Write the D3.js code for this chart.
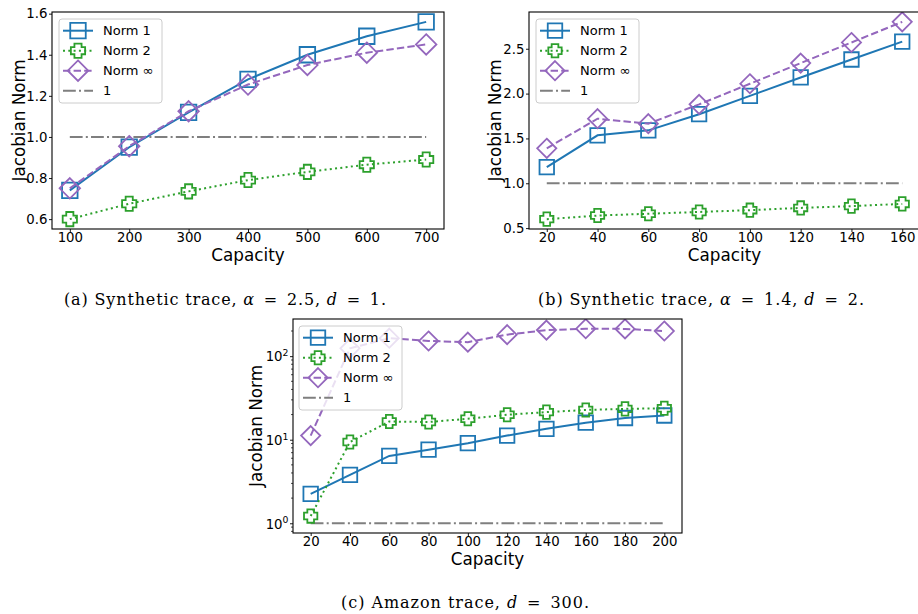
<!DOCTYPE html>
<html>
<head>
<meta charset="utf-8">
<script src="https://cdn.jsdelivr.net/npm/d3@7"></script>
<style>
  body { margin: 0; background: #fff; }
  svg { display: block; }
  text { font-family: "DejaVu Sans", sans-serif; fill: #000; }
  .cap { font-family: "DejaVu Serif", serif; }
</style>
</head>
<body>
<svg id="fig" width="918" height="614"></svg>
<script>

// ---- panel (a): synthetic trace, alpha = 2.5, d = 1
var capA   = [100, 200, 300, 400, 500, 600, 700];
var a_norm1 = [0.74, 0.95, 1.12, 1.28, 1.40, 1.49, 1.56];
var a_norm2 = [0.60, 0.675, 0.735, 0.79, 0.83, 0.865, 0.89];
var a_normI = [0.75, 0.955, 1.125, 1.255, 1.35, 1.41, 1.45];
var a_yticks = [0.6, 0.8, 1.0, 1.2, 1.4, 1.6];

// ---- panel (b): synthetic trace, alpha = 1.4, d = 2
var capB   = [20, 40, 60, 80, 100, 120, 140, 160];
var b_norm1 = [1.18, 1.535, 1.59, 1.77, 1.975, 2.18, 2.38, 2.58];
var b_norm2 = [0.60, 0.64, 0.66, 0.68, 0.70, 0.725, 0.745, 0.77];
var b_normI = [1.39, 1.72, 1.665, 1.88, 2.11, 2.34, 2.57, 2.80];
var b_yticks = [0.5, 1.0, 1.5, 2.0, 2.5];

// ---- panel (c): amazon trace, d = 300
var capC   = [20, 40, 60, 80, 100, 120, 140, 160, 180, 200];
var c_norm1 = [2.25, 3.8, 6.4, 7.6, 9.1, 11.2, 13.5, 16.0, 18.2, 19.5];
var c_norm2 = [1.22, 9.4, 16.5, 16.3, 17.8, 19.9, 21.4, 22.7, 23.4, 23.8];
var c_normI = [11.2, 124, 164, 152, 147, 181, 205, 213, 212, 200];
var c_yticks = [1, 10, 100];

var labels = ["Norm 1", "Norm 2", "Norm \u221e", "1"];

var blue = "#1f77b4", green = "#2ca02c", purple = "#9467bd", gray = "#7f7f7f";

var svg = d3.select("#fig");

// marker shapes (open)
function markerPath(kind, s) {
	if (kind == "square") {
		var h = s / 2;
		return "M" + (-h) + "," + (-h) + "H" + h + "V" + h + "H" + (-h) + "Z";
	}
	if (kind == "diamond") {
		var r = s * 0.66;
		return "M0," + (-r) + "L" + r + ",0L0," + r + "L" + (-r) + ",0Z";
	}
	// filled-plus outline ('P')
	var o = s * 0.46, a = o / 2;
	return "M" + (-a) + "," + (-o) + "H" + a + "V" + (-a) + "H" + o + "V" + a + "H" + a +
		"V" + o + "H" + (-a) + "V" + a + "H" + (-o) + "V" + (-a) + "H" + (-a) + "Z";
}

var styles = [
	{ color: blue,   dash: null,          marker: "square" },
	{ color: green,  dash: "2,3.3",       marker: "plus" },
	{ color: purple, dash: "7.4,3.2",     marker: "diamond" },
	{ color: gray,   dash: "12.8,3.2,2,3.2", marker: null }
];

function pad(lo, hi, log) {
	if (log) {
		var l0 = Math.log10(lo), l1 = Math.log10(hi), m = (l1 - l0) * 0.05;
		return [Math.pow(10, l0 - m), Math.pow(10, l1 + m)];
	}
	var m = (hi - lo) * 0.05;
	return [lo - m, hi + m];
}

function drawPanel(p) {
	var g = svg.append("g");
	var allY = d3.merge(p.series).concat([1]);
	var x = d3.scaleLinear().domain(pad(d3.min(p.cap), d3.max(p.cap))).range([p.left, p.right]);
	var y = (p.log ? d3.scaleLog() : d3.scaleLinear())
		.domain(pad(d3.min(allY), d3.max(allY), p.log)).range([p.bottom, p.top]);

	// x axis
	var xa = g.append("g").attr("transform", "translate(0," + p.bottom + ")")
		.call(d3.axisBottom(x).tickValues(p.cap).tickSize(3).tickPadding(0.5).tickFormat(d3.format("d")));
	xa.select(".domain").remove();
	xa.selectAll("text").style("font-family", "DejaVu Sans").style("font-size", p.fs + "px");
	xa.selectAll("line").attr("stroke", "#000").attr("stroke-width", 0.9);

	// y axis
	var ya = g.append("g").attr("transform", "translate(" + p.left + ",0)")
		.call(d3.axisLeft(y).tickValues(p.yticks).tickSize(3).tickPadding(1.5)
			.tickFormat(p.log ? "" : d3.format(".1f")));
	ya.select(".domain").remove();
	ya.selectAll("text").style("font-family", "DejaVu Sans").style("font-size", p.fs + "px");
	ya.selectAll("line").attr("stroke", "#000").attr("stroke-width", 0.9);
	if (p.log) {
		ya.selectAll(".tick text").each(function(d) {
			var t = d3.select(this).text("").attr("dy", "0.36em");
			t.append("tspan").text("10");
			t.append("tspan").attr("dy", "-0.55em").style("font-size", (p.fs * 0.7) + "px").text(Math.round(Math.log10(d)));
		});
		// minor ticks
		var minors = [];
		var dom = y.domain();
		for (var k = -1; k <= 2; k++)
			for (var m = 2; m <= 9; m++) {
				var v = m * Math.pow(10, k);
				if (v >= dom[0] && v <= dom[1]) minors.push(v);
			}
		g.selectAll(".minor").data(minors).enter().append("line")
			.attr("x1", p.left).attr("x2", p.left - 2)
			.attr("y1", d => y(d)).attr("y2", d => y(d))
			.attr("stroke", "#000").attr("stroke-width", 0.7);
	}

	// clip for data
	var cid = "clip" + p.id;
	svg.append("clipPath").attr("id", cid).append("rect")
		.attr("x", p.left).attr("y", p.top).attr("width", p.right - p.left).attr("height", p.bottom - p.top);
	var dg = g.append("g").attr("clip-path", "url(#" + cid + ")");

	// reference line at 1
	dg.append("line")
		.attr("x1", x(p.cap[0])).attr("x2", x(p.cap[p.cap.length - 1]))
		.attr("y1", y(1)).attr("y2", y(1))
		.attr("stroke", gray).attr("stroke-width", 2).attr("stroke-dasharray", styles[3].dash);

	var line = d3.line().x((d, i) => x(p.cap[i])).y(d => y(d));
	p.series.forEach(function(s, k) {
		var st = styles[k];
		dg.append("path").datum(s).attr("d", line)
			.attr("fill", "none").attr("stroke", st.color).attr("stroke-width", 2)
			.attr("stroke-dasharray", st.dash);
		dg.selectAll(".m" + k).data(s).enter().append("path")
			.attr("transform", (d, i) => "translate(" + x(p.cap[i]) + "," + y(d) + ")")
			.attr("d", markerPath(st.marker, p.ms))
			.attr("fill", "none").attr("stroke", st.color).attr("stroke-width", 1.8);
	});

	// frame
	g.append("rect").attr("x", p.left).attr("y", p.top)
		.attr("width", p.right - p.left).attr("height", p.bottom - p.top)
		.attr("fill", "none").attr("stroke", "#000").attr("stroke-width", 1.1);

	// axis titles
	g.append("text").attr("x", (p.left + p.right) / 2).attr("y", p.bottom + 31.5)
		.attr("text-anchor", "middle").style("font-size", "16.8px").text("Capacity");
	g.append("text").attr("transform", "translate(" + p.ylabX + "," + ((p.top + p.bottom) / 2) + ") rotate(-90)")
		.attr("text-anchor", "middle").attr("dy", "0.35em").style("font-size", "16.8px").text("Jacobian Norm");

	// legend
	var lg = g.append("g").attr("transform", "translate(" + p.legX + "," + p.legY + ")");
	lg.append("rect").attr("width", 103).attr("height", 84).attr("rx", 3)
		.attr("fill", "#fff").attr("fill-opacity", 0.8).attr("stroke", "#cccccc").attr("stroke-width", 1);
	labels.forEach(function(lab, k) {
		var st = styles[k], yy = 11.7 + k * 20;
		lg.append("line").attr("x1", 4).attr("x2", 34).attr("y1", yy).attr("y2", yy)
			.attr("stroke", st.color).attr("stroke-width", 2).attr("stroke-dasharray", st.dash);
		if (st.marker)
			lg.append("path").attr("transform", "translate(19," + yy + ")")
				.attr("d", markerPath(st.marker, p.ms)).attr("fill", "none")
				.attr("stroke", st.color).attr("stroke-width", 1.8);
		lg.append("text").attr("x", 44).attr("y", yy).attr("dy", "0.36em")
			.style("font-size", "13px").text(lab);
	});
}

drawPanel({ id: "a", cap: capA, series: [a_norm1, a_norm2, a_normI], yticks: a_yticks, log: false,
	left: 52, right: 444, top: 12, bottom: 229, fs: 13.3, ms: 15.5, ylabX: 19, legX: 59, legY: 19 });
drawPanel({ id: "b", cap: capB, series: [b_norm1, b_norm2, b_normI], yticks: b_yticks, log: false,
	left: 529, right: 920, top: 12, bottom: 229, fs: 13.3, ms: 14.5, ylabX: 495, legX: 536, legY: 19 });
drawPanel({ id: "c", cap: capC, series: [c_norm1, c_norm2, c_normI], yticks: c_yticks, log: true,
	left: 293, right: 682, top: 319, bottom: 533, fs: 13.3, ms: 14.5, ylabX: 256, legX: 299, legY: 326 });

// captions, en spaces around "=" as in LaTeX math
function caption(cx, cy, w, parts) {
	var t = svg.append("text").attr("class", "cap").attr("x", cx).attr("y", cy)
		.attr("text-anchor", "middle").style("font-size", "16px")
		.attr("textLength", w).attr("lengthAdjust", "spacing");
	parts.forEach(function(pt) {
		t.append("tspan").style("font-style", pt[1] ? "italic" : "normal").text(pt[0]);
	});
}
caption(225, 305, 322, [["(a) Synthetic trace, ", 0], ["\u03b1", 1], ["\u2002=\u20022.5, ", 0], ["d", 1], ["\u2002=\u20021.", 0]]);
caption(701, 305, 326, [["(b) Synthetic trace, ", 0], ["\u03b1", 1], ["\u2002=\u20021.4, ", 0], ["d", 1], ["\u2002=\u20022.", 0]]);
caption(465, 608, 248, [["(c) Amazon trace, ", 0], ["d", 1], ["\u2002=\u2002300.", 0]]);

</script>
</body>
</html>
